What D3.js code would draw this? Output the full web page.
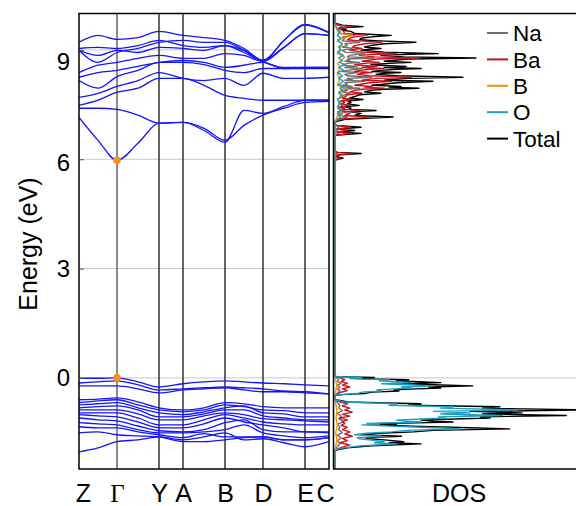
<!DOCTYPE html>
<html>
<head>
<meta charset="utf-8">
<script src="https://cdn.jsdelivr.net/npm/d3@7"></script>
<style>
  body { margin: 0; background: #fff; }
  svg { display: block; }
  text { font-family: "Liberation Sans", Arial, sans-serif; }
</style>
</head>
<body>
<div id="chart"></div>
<script>
// High-symmetry path and band sampling (k distance along path)
const kTicks = [0, 0.38, 0.80, 1.04, 1.46, 1.84, 2.26, 2.50];
const kLabels = ['Z', 'Γ', 'Y', 'A', 'B', 'D', 'E', 'C'];
const kSamples = [0, 0.19, 0.38, 0.59, 0.80, 1.04, 1.25, 1.46, 1.65, 1.84, 2.05, 2.26, 2.50];
const yTicks = [0, 3, 6, 9];

// Conduction bands (eV) at kSamples
const conductionBands = [
  [7.15, 6.52, 5.97, 6.44, 6.99, 7.01, 6.85, 6.52, 6.93, 7.21, 7.40, 7.56, 7.59],
  [7.40, 7.40, 7.37, 7.21, 6.99, 7.01, 6.79, 6.47, 7.34, 7.26, 7.45, 7.62, 7.62],
  [7.48, 7.62, 7.84, 7.95, 8.22, 8.22, 8.03, 7.75, 7.67, 7.62, 7.62, 7.62, 7.62],
  [7.70, 7.81, 8.00, 8.16, 8.38, 8.22, 8.16, 8.22, 8.03, 8.36, 8.22, 8.22, 8.25],
  [8.16, 7.95, 8.27, 8.44, 8.66, 8.66, 8.60, 8.44, 8.38, 8.49, 8.49, 8.49, 8.49],
  [8.25, 8.38, 8.44, 8.55, 8.66, 8.71, 8.66, 8.52, 8.58, 8.66, 8.49, 8.52, 8.52],
  [8.38, 8.58, 8.66, 8.77, 8.85, 8.77, 8.77, 8.90, 8.85, 8.68, 9.07, 9.45, 9.40],
  [8.99, 8.85, 8.99, 8.93, 9.07, 9.04, 8.99, 9.12, 8.99, 8.71, 9.26, 9.70, 9.48],
  [9.04, 9.07, 9.04, 9.12, 9.26, 9.12, 9.07, 9.12, 8.93, 8.71, 9.26, 9.68, 9.47],
  [9.21, 9.40, 9.29, 9.34, 9.51, 9.40, 9.34, 9.26, 9.04, 8.71, 9.07, 9.45, 9.40],
  [8.99, 8.66, 8.93, 9.04, 9.21, 9.26, 9.21, 9.21, 8.99, 8.68, 8.52, 8.52, 8.52]
];

// Valence bands (eV) at kSamples
const valenceBands = [
  [-0.01, -0.01, 0.00, -0.11, -0.25, -0.16, -0.11, -0.08, -0.11, -0.14, -0.16, -0.19, -0.22],
  [-0.14, -0.11, -0.08, -0.19, -0.33, -0.30, -0.27, -0.25, -0.27, -0.30, -0.36, -0.38, -0.44],
  [-0.22, -0.22, -0.22, -0.30, -0.41, -0.33, -0.30, -0.27, -0.33, -0.38, -0.38, -0.41, -0.44],
  [-0.60, -0.58, -0.55, -0.66, -0.82, -0.88, -0.82, -0.68, -0.71, -0.79, -0.82, -0.82, -0.82],
  [-0.68, -0.63, -0.60, -0.74, -0.88, -0.93, -0.88, -0.74, -0.79, -0.88, -0.90, -0.96, -0.96],
  [-0.74, -0.71, -0.68, -0.82, -0.96, -1.01, -0.93, -0.82, -0.77, -0.96, -0.99, -1.07, -1.07],
  [-0.82, -0.79, -0.77, -0.88, -1.07, -1.07, -0.99, -0.88, -0.88, -1.04, -1.10, -1.15, -1.15],
  [-0.88, -0.88, -0.88, -0.99, -1.15, -1.15, -1.04, -0.96, -1.01, -1.12, -1.15, -1.18, -1.21],
  [-0.96, -0.96, -0.96, -1.10, -1.29, -1.29, -1.15, -1.01, -1.10, -1.21, -1.26, -1.29, -1.29],
  [-1.01, -1.04, -1.07, -1.21, -1.37, -1.37, -1.26, -1.10, -1.21, -1.29, -1.37, -1.48, -1.48],
  [-1.10, -1.15, -1.18, -1.32, -1.45, -1.48, -1.42, -1.23, -1.15, -1.42, -1.48, -1.48, -1.51],
  [-1.23, -1.26, -1.29, -1.42, -1.51, -1.51, -1.48, -1.42, -1.29, -1.51, -1.59, -1.64, -1.59],
  [-1.34, -1.37, -1.37, -1.48, -1.56, -1.64, -1.53, -1.62, -1.62, -1.62, -1.70, -1.70, -1.64],
  [-1.51, -1.48, -1.56, -1.59, -1.62, -1.75, -1.75, -1.70, -1.64, -1.62, -1.70, -1.70, -1.64],
  [-2.03, -1.92, -1.75, -1.70, -1.62, -1.70, -1.62, -1.51, -1.70, -1.67, -1.78, -1.89, -1.75]
];

// band edges marked at Gamma
const edgePoints = [[0.38, 0.0], [0.38, 5.97]];

// DOS as [energy (eV), states (arb.)]
const totalDos = [
  [-2.5, 0], [-2.0, 0], [-1.97, 1], [-1.92, 5], [-1.86, 15], [-1.81, 35], [-1.78, 22], [-1.75, 28], [-1.70, 20],
  [-1.67, 14], [-1.64, 12], [-1.60, 27], [-1.56, 11], [-1.52, 18], [-1.48, 32], [-1.44, 40], [-1.40, 71],
  [-1.37, 55], [-1.33, 35], [-1.29, 16], [-1.27, 25], [-1.25, 18], [-1.21, 48], [-1.19, 40], [-1.16, 35],
  [-1.12, 52], [-1.10, 63], [-1.07, 59], [-1.03, 94], [-0.99, 60], [-0.96, 76], [-0.92, 55], [-0.88, 102],
  [-0.83, 60], [-0.79, 67], [-0.75, 30], [-0.71, 35], [-0.66, 5], [-0.62, 2], [-0.60, 0],
  [-0.48, 0], [-0.46, 3], [-0.43, 12], [-0.39, 15], [-0.36, 26], [-0.33, 24], [-0.30, 33], [-0.28, 43],
  [-0.25, 38], [-0.22, 56], [-0.19, 40], [-0.16, 27], [-0.13, 43], [-0.08, 25], [-0.05, 30], [-0.02, 9],
  [0.01, 16], [0.03, 1], [0.05, 0],
  [5.98, 0], [6.03, 3.3], [6.07, 0.5], [6.12, 2], [6.16, 10.6], [6.19, 1], [6.22, 0],
  [6.66, 0], [6.71, 10.6], [6.75, 1.5], [6.79, 8], [6.83, 1.5], [6.88, 10.6], [6.93, 0.5], [6.97, 0],
  [7.02, 0], [7.04, 1], [7.10, 4.5], [7.16, 23.6], [7.20, 8], [7.26, 10.6], [7.30, 6], [7.34, 16.7], [7.37, 6],
  [7.40, 6.5], [7.44, 4], [7.48, 9.8], [7.52, 5], [7.56, 6.5], [7.60, 5], [7.64, 11.4], [7.68, 6], [7.73, 8.5],
  [7.77, 10], [7.81, 18.7], [7.85, 12], [7.89, 14.6], [7.92, 20], [7.95, 34.1], [7.98, 22], [8.00, 26.8],
  [8.03, 15], [8.05, 18.7], [8.10, 25], [8.14, 39.8], [8.17, 20], [8.19, 22.8], [8.22, 30], [8.25, 52],
  [8.29, 25], [8.33, 16.7], [8.36, 20], [8.38, 26.8], [8.41, 15], [8.44, 18.7], [8.47, 25], [8.49, 35],
  [8.52, 20], [8.55, 28.9], [8.58, 18], [8.60, 14.6], [8.63, 22], [8.66, 30.9], [8.69, 20], [8.71, 22.8],
  [8.75, 30], [8.78, 57.3], [8.81, 28], [8.85, 18.7], [8.88, 30], [8.90, 41.9], [8.94, 20], [8.99, 10.6],
  [9.02, 14], [9.04, 18.7], [9.08, 12], [9.12, 14.6], [9.17, 20], [9.21, 32.9], [9.25, 18], [9.28, 10],
  [9.32, 10.6], [9.36, 15], [9.40, 22.8], [9.45, 8], [9.51, 6.5], [9.54, 3], [9.56, 4.5], [9.60, 2],
  [9.64, 11.4], [9.68, 3], [9.73, 0.4], [9.76, 0], [10, 0]
];

const naDos = [
  [-2.5, 0], [-1.97, 0], [-1.80, 2], [-1.72, 1], [-1.65, 2.5], [-1.57, 1], [-1.50, 3], [-1.42, 1.5], [-1.35, 2],
  [-1.27, 1], [-1.20, 3.5], [-1.12, 1.5], [-1.05, 2.5], [-0.97, 1], [-0.90, 3], [-0.82, 1.5], [-0.75, 2], [-0.60, 0],
  [-0.48, 0], [-0.35, 2], [-0.30, 1], [-0.25, 2], [-0.20, 1], [-0.15, 2.5], [-0.10, 1], [-0.05, 1.5], [0.05, 0],
  [6.10, 0], [6.16, 1], [6.22, 0],
  [6.66, 0], [6.71, 1.5], [6.75, 0.5], [6.79, 1], [6.83, 0.5], [6.88, 1.5], [6.97, 0],
  [7.02, 0], [7.10, 1], [7.16, 5], [7.21, 1.5], [7.26, 3], [7.30, 1], [7.34, 4], [7.40, 1.5], [7.48, 3],
  [7.56, 1.5], [7.64, 4], [7.73, 2], [7.81, 6], [7.85, 3], [7.89, 5], [7.92, 3], [7.95, 10], [7.98, 4],
  [8.00, 7], [8.03, 3], [8.05, 5], [8.10, 4], [8.14, 12], [8.17, 4], [8.19, 7], [8.22, 5], [8.25, 15],
  [8.29, 5], [8.33, 4], [8.38, 9], [8.41, 3], [8.44, 5], [8.49, 11], [8.52, 4], [8.55, 9], [8.58, 3],
  [8.63, 5], [8.66, 10], [8.69, 4], [8.71, 6], [8.75, 5], [8.78, 16], [8.81, 5], [8.85, 6], [8.90, 12],
  [8.94, 4], [8.99, 3], [9.04, 7], [9.08, 3], [9.12, 5], [9.17, 4], [9.21, 10], [9.25, 3], [9.32, 4],
  [9.36, 3], [9.40, 8], [9.45, 2], [9.51, 2], [9.56, 1], [9.64, 3], [9.68, 1], [9.73, 0], [10, 0]
];

const baDos = [
  [-2.5, 0], [-2.00, 0], [-1.95, 1], [-1.90, 3], [-1.84, 6], [-1.78, 2], [-1.72, 5], [-1.66, 3], [-1.60, 7],
  [-1.54, 4], [-1.48, 6], [-1.42, 3], [-1.36, 5], [-1.30, 2.5], [-1.25, 4], [-1.20, 3], [-1.15, 5], [-1.10, 2],
  [-1.05, 6], [-1.00, 3], [-0.94, 7], [-0.88, 4], [-0.83, 6], [-0.77, 3], [-0.71, 5], [-0.66, 2], [-0.60, 0],
  [-0.50, 0], [-0.46, 1], [-0.40, 2], [-0.35, 5], [-0.30, 3], [-0.25, 6], [-0.20, 3], [-0.15, 5], [-0.10, 2.5],
  [-0.05, 4], [0.00, 2], [0.05, 0],
  [5.98, 0], [6.03, 2], [6.07, 0.3], [6.12, 1.2], [6.16, 6.5], [6.19, 0.5], [6.22, 0],
  [6.66, 0], [6.71, 6.5], [6.75, 1], [6.79, 5], [6.83, 1], [6.88, 6.5], [6.93, 0.3], [6.97, 0],
  [7.02, 0], [7.10, 2.5], [7.16, 14], [7.20, 4], [7.26, 6], [7.30, 3], [7.34, 10], [7.37, 3], [7.40, 4],
  [7.44, 2], [7.48, 6], [7.52, 2.5], [7.56, 4], [7.60, 2.5], [7.64, 7], [7.68, 3], [7.73, 4.5], [7.77, 5],
  [7.81, 11], [7.85, 6], [7.89, 8], [7.92, 11], [7.95, 20], [7.98, 12], [8.00, 15], [8.03, 8], [8.05, 10],
  [8.10, 14], [8.14, 23], [8.17, 11], [8.19, 13], [8.22, 17], [8.25, 31], [8.29, 14], [8.33, 9], [8.36, 11],
  [8.38, 15], [8.41, 8], [8.44, 10], [8.47, 14], [8.49, 20], [8.52, 11], [8.55, 17], [8.58, 10], [8.60, 8],
  [8.63, 12], [8.66, 18], [8.69, 11], [8.71, 13], [8.75, 17], [8.78, 34], [8.81, 16], [8.85, 10], [8.88, 17],
  [8.90, 25], [8.94, 11], [8.99, 6], [9.02, 8], [9.04, 11], [9.08, 7], [9.12, 8], [9.17, 12], [9.21, 19],
  [9.25, 10], [9.28, 5], [9.32, 6], [9.36, 8], [9.40, 13], [9.45, 4], [9.51, 3.5], [9.56, 2.5], [9.60, 1],
  [9.64, 7], [9.68, 1.5], [9.73, 0], [10, 0]
];

const bDos = [
  [-2.5, 0], [-1.97, 0], [-1.70, 0.8], [-1.50, 0.3], [-1.30, 1], [-1.10, 0.4], [-0.90, 0.8], [-0.60, 0],
  [-0.48, 0], [-0.20, 0.7], [0.05, 0],
  [7.02, 0], [7.20, 1], [7.30, 2.5], [7.40, 1], [7.56, 2], [7.66, 1], [7.75, 4], [7.85, 1.5], [7.95, 5],
  [8.03, 1], [8.22, 2], [8.33, 1], [8.52, 2], [8.63, 1], [8.80, 4], [8.90, 1], [9.04, 2], [9.17, 3],
  [9.28, 1], [9.35, 5], [9.40, 7], [9.46, 2], [9.51, 1], [9.64, 0.5], [9.73, 0], [10, 0]
];

const oDos = [
  [-2.5, 0], [-2.0, 0], [-1.97, 0.5], [-1.92, 3.5], [-1.86, 11], [-1.81, 25], [-1.78, 16], [-1.75, 20], [-1.70, 14],
  [-1.67, 10], [-1.64, 9], [-1.60, 19], [-1.56, 8], [-1.52, 13], [-1.48, 23], [-1.44, 29], [-1.40, 51],
  [-1.37, 40], [-1.33, 25], [-1.29, 11], [-1.27, 18], [-1.25, 13], [-1.21, 35], [-1.19, 29], [-1.16, 25],
  [-1.12, 37], [-1.10, 45], [-1.07, 42], [-1.03, 68], [-0.99, 43], [-0.96, 55], [-0.92, 40], [-0.88, 74],
  [-0.83, 43], [-0.79, 48], [-0.75, 22], [-0.71, 25], [-0.66, 3.5], [-0.62, 1], [-0.60, 0],
  [-0.48, 0], [-0.46, 2], [-0.43, 9], [-0.39, 11], [-0.36, 19], [-0.33, 17], [-0.30, 24], [-0.28, 31],
  [-0.25, 27], [-0.22, 40], [-0.19, 29], [-0.16, 19], [-0.13, 31], [-0.08, 18], [-0.05, 22], [-0.02, 6],
  [0.01, 11], [0.03, 1], [0.05, 0],
  [7.02, 0], [7.16, 2], [7.26, 1], [7.34, 2.5], [7.44, 1], [7.56, 2], [7.64, 1], [7.73, 3], [7.81, 1.5],
  [7.89, 3], [7.95, 2], [8.00, 4], [8.05, 1.5], [8.14, 3.5], [8.22, 1.5], [8.29, 3], [8.38, 1], [8.44, 3.5],
  [8.52, 1.5], [8.60, 4], [8.66, 2], [8.71, 3], [8.78, 1.5], [8.85, 3.5], [8.94, 1], [8.99, 2.5], [9.08, 1.5],
  [9.17, 3], [9.25, 1], [9.32, 2.5], [9.40, 1], [9.51, 2], [9.60, 0.5], [9.73, 0], [10, 0]
];

const legendNames = ['Na', 'Ba', 'B', 'O', 'Total'];
const legendColors = ['#6e6e6e', '#c8141e', '#ff8c00', '#1b9ec2', '#000000'];

// Layout
const width = 576, height = 506;
const plotTop = 13.5, plotBottom = 469;
const band = { left: 79, right: 329 };
const dos = { left: 333.5, right: 582 };

const svg = d3.select('#chart')
  .append('svg')
  .attr('width', width)
  .attr('height', height);

svg.append('rect').attr('width', width).attr('height', height).attr('fill', '#fff');

const y = d3.scaleLinear().domain([-2.5, 10]).range([plotBottom, plotTop]);
const x = d3.scaleLinear().domain([0, 2.5]).range([band.left, band.right]);
const xDos = d3.scaleLinear().domain([0, 100]).range([dos.left + 1.5, dos.left + 247.5]);

const defs = svg.append('defs');
defs.append('clipPath').attr('id', 'clip-band')
  .append('rect').attr('x', band.left).attr('y', plotTop)
  .attr('width', band.right - band.left).attr('height', plotBottom - plotTop);
defs.append('clipPath').attr('id', 'clip-dos')
  .append('rect').attr('x', dos.left).attr('y', plotTop)
  .attr('width', dos.right - dos.left).attr('height', plotBottom - plotTop);

// grid lines
svg.append('g')
  .selectAll('line')
  .data(yTicks)
  .enter()
  .append('line')
  .attr('x1', band.left).attr('x2', band.right)
  .attr('y1', d => y(d)).attr('y2', d => y(d))
  .attr('stroke', '#c8c8c8').attr('stroke-width', 1);

svg.append('line')
  .attr('x1', dos.left).attr('x2', dos.right)
  .attr('y1', y(0)).attr('y2', y(0))
  .attr('stroke', '#c8c8c8').attr('stroke-width', 1);

// high-symmetry lines
svg.append('g')
  .selectAll('line')
  .data(kTicks.slice(1, -1))
  .enter()
  .append('line')
  .attr('x1', d => x(d)).attr('x2', d => x(d))
  .attr('y1', plotTop).attr('y2', plotBottom)
  .attr('stroke', (d, i) => (i === 0 ? '#666' : '#333'))
  .attr('stroke-width', 1.5);

// bands
const bandLine = d3.line()
  .x((d, i) => x(kSamples[i]))
  .y(d => y(d))
  .curve(d3.curveMonotoneX);

svg.append('g')
  .attr('clip-path', 'url(#clip-band)')
  .selectAll('path')
  .data(valenceBands.concat(conductionBands))
  .enter()
  .append('path')
  .attr('d', bandLine)
  .attr('fill', 'none')
  .attr('stroke', '#1414ff')
  .attr('stroke-width', 1.3);

svg.append('g')
  .selectAll('circle')
  .data(edgePoints)
  .enter()
  .append('circle')
  .attr('cx', d => x(d[0]))
  .attr('cy', d => y(d[1]))
  .attr('r', 3.8)
  .attr('fill', '#ff8c1a');

// DOS curves
const dosLine = d3.line()
  .x(d => xDos(d[1]))
  .y(d => y(d[0]));

const dosSeries = [
  { data: totalDos, color: legendColors[4] },
  { data: naDos, color: legendColors[0] },
  { data: baDos, color: legendColors[1] },
  { data: bDos, color: legendColors[2] },
  { data: oDos, color: legendColors[3] }
];

svg.append('g')
  .attr('clip-path', 'url(#clip-dos)')
  .selectAll('path')
  .data(dosSeries)
  .enter()
  .append('path')
  .attr('d', d => dosLine(d.data))
  .attr('fill', 'none')
  .attr('stroke', d => d.color)
  .attr('stroke-width', 1.4)
  .attr('stroke-linejoin', 'round');

// frames
[band, dos].forEach(p => {
  svg.append('rect')
    .attr('x', p.left).attr('y', plotTop)
    .attr('width', p.right - p.left).attr('height', plotBottom - plotTop)
    .attr('fill', 'none')
    .attr('stroke', '#000')
    .attr('stroke-width', 1.5);
});

// y axis
const labelShift = { 9: 12, 6: 4 }; // labels in the original sit a bit below their lines
const yAxis = svg.append('g')
  .attr('transform', `translate(${band.left},0)`)
  .call(d3.axisLeft(y).tickValues(yTicks).tickSizeInner(-5).tickSizeOuter(0).tickPadding(9));
yAxis.select('.domain').remove();
yAxis.selectAll('.tick line').attr('stroke', '#555');
yAxis.selectAll('.tick text')
  .attr('font-size', 24)
  .attr('fill', '#000')
  .attr('dy', d => `${0.32 + (labelShift[d] || 0) / 24}em`);

// x axis (k labels)
const xAxis = svg.append('g')
  .attr('transform', `translate(0,${plotBottom})`)
  .call(d3.axisBottom(x).tickValues(kTicks).tickFormat((d, i) => kLabels[i]).tickSize(0).tickPadding(15));
xAxis.select('.domain').remove();
xAxis.selectAll('.tick text')
  .attr('font-size', 25)
  .attr('fill', '#000')
  .style('font-family', (d, i) => (kLabels[i] === 'Γ' ? '"Liberation Serif", "DejaVu Serif", serif' : null))
  .attr('x', (d, i) => (i === 0 ? 4 : i === kTicks.length - 1 ? -4 : 0));

svg.append('text')
  .attr('x', 459)
  .attr('y', plotBottom + 15)
  .attr('dy', '0.71em')
  .attr('text-anchor', 'middle')
  .attr('font-size', 25)
  .text('DOS');

svg.append('text')
  .attr('transform', 'translate(28,244) rotate(-90)')
  .attr('text-anchor', 'middle')
  .attr('dominant-baseline', 'central')
  .attr('font-size', 25)
  .text('Energy (eV)');

// legend
const legend = svg.append('g')
  .selectAll('g')
  .data(legendNames)
  .enter()
  .append('g')
  .attr('transform', (d, i) => `translate(487,${33 + i * 26.4})`);

legend.append('line')
  .attr('x1', 0).attr('x2', 21)
  .attr('stroke', (d, i) => legendColors[i])
  .attr('stroke-width', 2);

legend.append('text')
  .attr('x', 26)
  .attr('dy', '0.36em')
  .attr('font-size', 22.5)
  .text(d => d);
</script>
</body>
</html>
